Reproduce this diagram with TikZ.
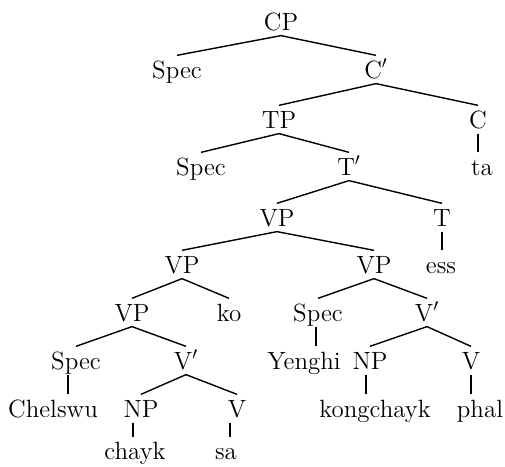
\documentclass[tikz,border=0pt]{standalone}
\usepackage{tikz}

\begin{document}
\begin{tikzpicture}[
    tnode/.style={inner xsep=1pt, inner ysep=2.8pt, text height=9.7pt, text depth=0pt,
                  anchor=base, font=\fontsize{14.2}{17}\selectfont},
    every path/.style={line width=0.8pt}]
  \useasboundingbox (0,0) rectangle (10.1,-9.32);

  % CP and C'
  \node (cp) [tnode] at (5.62, -0.60) {CP};
  \node (spec-c) [tnode] at (3.54, -1.56) {Spec};
  \node (c-bar) [tnode] at (7.52, -1.56) {C$'$};
  \node (tp) [tnode] at (5.58, -2.56) {TP};
  \node (c) [tnode] at (9.56, -2.56) {C};
  \node (ta) [tnode] at (9.64, -3.50) {ta};

  % TP and T'
  \node (spec-t) [tnode] at (4.02, -3.50) {Spec};
  \node (t-bar) [tnode] at (6.98, -3.50) {T$'$};
  \node (vp-top) [tnode] at (5.54, -4.52) {VP};
  \node (t) [tnode] at (8.84, -4.52) {T};
  \node (ess) [tnode] at (8.82, -5.46) {ess};

  % the two VPs
  \node (vp-left) [tnode] at (3.64, -5.46) {VP};
  \node (vp-right) [tnode] at (7.48, -5.46) {VP};
  \node (vp-low) [tnode] at (2.64, -6.42) {VP};
  \node (ko) [tnode] at (4.58, -6.42) {ko};
  \node (spec-y) [tnode] at (6.36, -6.42) {Spec};
  \node (v-bar-y) [tnode] at (8.54, -6.42) {V$'$};

  % lower left
  \node (spec-ch) [tnode] at (1.52, -7.38) {Spec};
  \node (v-bar-ch) [tnode] at (3.72, -7.38) {V$'$};
  \node (chelswu) [tnode] at (1.06, -8.34) {Chelswu};
  \node (np-ch) [tnode] at (2.82, -8.34) {NP};
  \node (v-ch) [tnode] at (4.74, -8.34) {V};
  \node (chayk) [tnode] at (2.70, -9.19) {chayk};
  \node (sa) [tnode] at (4.52, -9.19) {sa};

  % lower right
  \node (yenghi) [tnode] at (6.08, -7.38) {Yenghi};
  \node (np-y) [tnode] at (7.40, -7.38) {NP};
  \node (v-y) [tnode] at (9.42, -7.38) {V};
  \node (kongchayk) [tnode] at (7.50, -8.34) {kongchayk};
  \node (phal) [tnode] at (9.60, -8.34) {phal};

  % branches
  \draw (cp.south) to (spec-c.north);
  \draw (cp.south) to (c-bar.north);
  \draw (c-bar.south) to (tp.north);
  \draw (c-bar.south) to (c.north);
  \draw (c.south) to (c.south |- ta.north);
  \draw (tp.south) to (spec-t.north);
  \draw (tp.south) to (t-bar.north);
  \draw (t-bar.south) to (vp-top.north);
  \draw (t-bar.south) to (t.north);
  \draw (t.south) to (t.south |- ess.north);
  \draw (vp-top.south) to (vp-left.north);
  \draw (vp-top.south) to (vp-right.north);
  \draw (vp-left.south) to (vp-low.north);
  \draw (vp-left.south) to (ko.north);
  \draw (vp-right.south) to (spec-y.north);
  \draw (vp-right.south) to (v-bar-y.north);
  \draw (vp-low.south) to (spec-ch.north);
  \draw (vp-low.south) to (v-bar-ch.north);
  \draw (v-bar-ch.south) to (np-ch.north);
  \draw (v-bar-ch.south) to (v-ch.north);
  \draw (v-bar-y.south) to (np-y.north);
  \draw (v-bar-y.south) to (v-y.north);

  % unary branches
  \draw ([xshift=-1.6mm]spec-ch.south) to ([xshift=-1.6mm]spec-ch.south |- chelswu.north);
  \draw ([xshift=-1.6mm]np-ch.south) to ([xshift=-1.6mm]np-ch.south |- chayk.north);
  \draw ([xshift=-1.4mm]v-ch.south) to ([xshift=-1.4mm]v-ch.south |- sa.north);
  \draw ([xshift=-0.4mm]spec-y.south) to ([xshift=-0.4mm]spec-y.south |- yenghi.north);
  \draw ([xshift=-0.8mm]np-y.south) to ([xshift=-0.8mm]np-y.south |- kongchayk.north);
  \draw (v-y.south) to (v-y.south |- phal.north);
\end{tikzpicture}
\end{document}
